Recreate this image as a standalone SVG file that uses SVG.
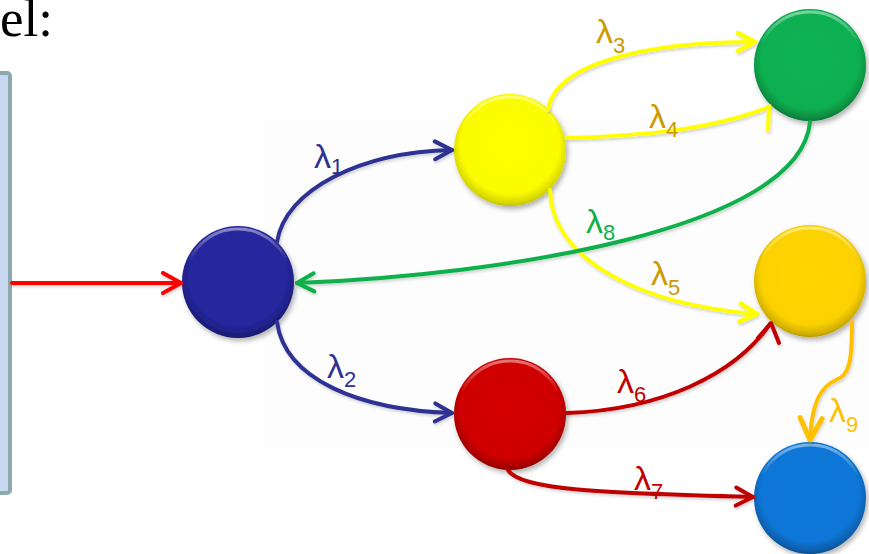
<svg xmlns="http://www.w3.org/2000/svg" width="869" height="554" viewBox="0 0 869 554">
<style>
.conn{fill:none;stroke-width:4;stroke-linecap:round}
.lbl{font-family:"Liberation Sans",Arial,sans-serif;font-size:34px}
.sub{font-size:22px}
.rim{fill:none;stroke:url(#hl);stroke-width:3}
.shade{fill:url(#shade)}
</style>
<defs>
<filter id="sh" x="-30%" y="-30%" width="170%" height="170%">
<feDropShadow dx="2" dy="3" stdDeviation="2.5" flood-color="#000" flood-opacity="0.3"/>
</filter>
<filter id="lsh" x="-10%" y="-10%" width="130%" height="130%">
<feDropShadow dx="1" dy="2" stdDeviation="1.5" flood-color="#000" flood-opacity="0.18"/>
</filter>
<radialGradient id="shade" cx="50%" cy="45%" r="55%">
<stop offset="0" stop-color="#000" stop-opacity="0"/>
<stop offset="0.8" stop-color="#000" stop-opacity="0.02"/>
<stop offset="0.95" stop-color="#000" stop-opacity="0.22"/>
<stop offset="1" stop-color="#000" stop-opacity="0.35"/>
</radialGradient>
<linearGradient id="hl" x1="0" y1="0" x2="0" y2="1">
<stop offset="0" stop-color="#fff" stop-opacity="0.45"/>
<stop offset="0.3" stop-color="#fff" stop-opacity="0"/>
</linearGradient>
<marker id="aRed" markerUnits="userSpaceOnUse" markerWidth="24" markerHeight="24" viewBox="0 0 24 24" refX="21" refY="12" orient="auto">
<path d="M3,2 L21,12 L3,22" fill="none" stroke="#FF0000" stroke-width="4" stroke-linecap="round" stroke-linejoin="round"/>
</marker>
<marker id="aBlue" markerUnits="userSpaceOnUse" markerWidth="24" markerHeight="24" viewBox="0 0 24 24" refX="21" refY="12" orient="auto">
<path d="M4,3 L21,12 L4,21" fill="none" stroke="#2E3192" stroke-width="4" stroke-linecap="round" stroke-linejoin="round"/>
</marker>
<marker id="aYel" markerUnits="userSpaceOnUse" markerWidth="24" markerHeight="24" viewBox="0 0 24 24" refX="21" refY="12" orient="auto">
<path d="M4,3 L21,12 L4,21" fill="none" stroke="#FFFF00" stroke-width="4.5" stroke-linecap="round" stroke-linejoin="round"/>
</marker>
<marker id="aGrn" markerUnits="userSpaceOnUse" markerWidth="24" markerHeight="24" viewBox="0 0 24 24" refX="21" refY="12" orient="auto">
<path d="M4,3 L21,12 L4,21" fill="none" stroke="#0DB04B" stroke-width="4" stroke-linecap="round" stroke-linejoin="round"/>
</marker>
<marker id="aDRed" markerUnits="userSpaceOnUse" markerWidth="24" markerHeight="24" viewBox="0 0 24 24" refX="21" refY="12" orient="auto">
<path d="M4,3 L21,12 L4,21" fill="none" stroke="#C00000" stroke-width="4" stroke-linecap="round" stroke-linejoin="round"/>
</marker>
<marker id="aOr" markerUnits="userSpaceOnUse" markerWidth="28" markerHeight="28" viewBox="0 0 28 28" refX="25" refY="14" orient="auto">
<path d="M3,3 L25,14 L3,25" fill="none" stroke="#FFC000" stroke-width="5" stroke-linecap="round" stroke-linejoin="round"/>
</marker>
</defs>
<rect width="869" height="554" fill="#fff"/>
<rect x="262" y="118" width="607" height="330" fill="#FDFDFD"/>
<text x="0" y="36" font-family="'Liberation Serif','Times New Roman',serif" font-size="53" fill="#000">el:</text>
<g id="source">
<rect x="-10" y="73" width="20" height="420" rx="3" fill="#C6D9F0" stroke="#8EA9AD" stroke-width="4"/>
</g>
<g id="nodes">
<g id="n0" filter="url(#sh)">
<circle cx="238" cy="282" r="56" fill="#2626A0"/>
<circle class="shade" cx="238" cy="282" r="56"/>
<circle class="rim" cx="238" cy="282" r="53"/>
</g>
<g id="n1" filter="url(#sh)">
<circle cx="510" cy="150" r="56" fill="#FFFF00"/>
<circle class="shade" cx="510" cy="150" r="56" opacity="0.7"/>
<circle class="rim" cx="510" cy="150" r="53"/>
</g>
<g id="n2" filter="url(#sh)">
<circle cx="810" cy="65" r="56" fill="#0BB352"/>
<circle class="shade" cx="810" cy="65" r="56"/>
<circle class="rim" cx="810" cy="65" r="53"/>
</g>
<g id="n3" filter="url(#sh)">
<circle cx="810" cy="281" r="56" fill="#FFD500"/>
<circle class="shade" cx="810" cy="281" r="56" opacity="0.8"/>
<circle class="rim" cx="810" cy="281" r="53"/>
</g>
<g id="n4" filter="url(#sh)">
<circle cx="510" cy="414" r="56" fill="#D40000"/>
<circle class="shade" cx="510" cy="414" r="56"/>
<circle class="rim" cx="510" cy="414" r="53"/>
</g>
<g id="n5" filter="url(#sh)">
<circle cx="810" cy="498" r="56" fill="#0A78DA"/>
<circle class="shade" cx="810" cy="498" r="56"/>
<circle class="rim" cx="810" cy="498" r="53"/>
</g>
</g>
<g id="connectors" filter="url(#lsh)">
<path id="e-in" class="conn" stroke="#FF0000" d="M12,283 L181,283" marker-end="url(#aRed)"/>
<path id="e1" class="conn" stroke="#2E3192" d="M277,242 C285,190 360,152 452,150" marker-end="url(#aBlue)"/>
<path id="e2" class="conn" stroke="#2E3192" d="M277,322 C285,380 360,410 452,413" marker-end="url(#aBlue)"/>
<path id="e3" class="conn" stroke="#FFFF00" stroke-width="4.5" d="M548,110 C555,62 650,42 755,42" marker-end="url(#aYel)"/>
<path id="e4" class="conn" stroke="#FFFF00" stroke-width="4.5" d="M567,138 C640,136 710,130 769,107 L768,130"/>
<path id="e5" class="conn" stroke="#FFFF00" stroke-width="4.5" d="M550,190 C552,260 640,305 757,314" marker-end="url(#aYel)"/>
<path id="e8" class="conn" stroke="#0DB04B" d="M810,122 C800,230 500,275 297,283" marker-end="url(#aGrn)"/>
<path id="e6" class="conn" stroke="#C00000" d="M567,413 C660,410 735,375 770,324"/>
<path id="e6h" class="conn" stroke="#C00000" stroke-width="5" stroke-linejoin="round" d="M758,338 L771,323 L779,343"/>
<path id="e7" class="conn" stroke="#C00000" d="M508,470 C520,490 600,493 753,497" marker-end="url(#aDRed)"/>
<path id="e9" class="conn" stroke="#FFC000" stroke-width="5" d="M852,322 C852,360 850,375 836,380 C822,386 812,400 810,440" marker-end="url(#aOr)"/>
</g>
<g id="labels" class="lbl">
<text x="314" y="168" fill="#2E3192">λ<tspan class="sub" dy="6">1</tspan></text>
<text x="327" y="378" fill="#2E3192">λ<tspan class="sub" dy="9">2</tspan></text>
<text x="596" y="43" fill="#CC9900">λ<tspan class="sub" dy="10">3</tspan></text>
<text x="649" y="128" fill="#CC9900">λ<tspan class="sub" dy="9">4</tspan></text>
<text x="651" y="285" fill="#CC9900">λ<tspan class="sub" dy="10">5</tspan></text>
<text x="617" y="393" fill="#C00000">λ<tspan class="sub" dy="9">6</tspan></text>
<text x="634" y="490" fill="#C00000">λ<tspan class="sub" dy="9">7</tspan></text>
<text x="586" y="233" fill="#0DB04B">λ<tspan class="sub" dy="7">8</tspan></text>
<text x="829" y="422" fill="#FFC000">λ<tspan class="sub" dy="10">9</tspan></text>
</g>
</svg>
